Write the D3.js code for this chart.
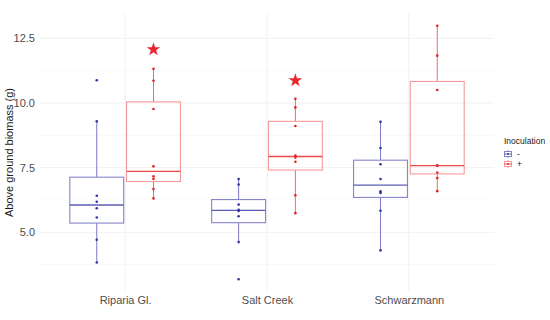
<!DOCTYPE html>
<html>
<head>
<meta charset="utf-8">
<script src="https://cdn.jsdelivr.net/npm/d3@7"></script>
<style>
  body { margin: 0; background: #fff; }
  text { font-family: "Liberation Sans", Arial, sans-serif; }
</style>
</head>
<body>
<div id="chart"></div>
<script>
// chart size
const width = 550, height = 320;
const margin = {top: 13, right: 56, bottom: 28, left: 40};

// data
let cultivars = ["Riparia Gl.", "Salt Creek", "Schwarzmann"];
let groups = ["-", "+"];
let biomass_minus = [
    [3.83, 4.71, 5.57, 5.93, 6.18, 6.41, 9.29, 10.88],
    [3.18, 4.62, 5.62, 5.82, 5.87, 6.07, 6.85, 7.06],
    [4.30, 5.83, 6.52, 6.58, 7.06, 7.63, 8.26, 9.27]
];
let biomass_plus = [
    [6.31, 6.67, 7.06, 7.16, 7.55, 9.77, 10.86, 11.32],
    [5.74, 6.43, 7.73, 7.89, 7.97, 9.11, 9.83, 10.16],
    [6.59, 7.10, 7.31, 7.58, 7.58, 10.50, 11.83, 12.99]
];
// significance stars (cultivar, height)
let star_cultivars = ["Riparia Gl.", "Salt Creek"];
let star_values = [12.07, 10.87];
let y_ticks = [5.0, 7.5, 10.0, 12.5];
let y_minor = [3.75, 6.25, 8.75, 11.25];

// colours per group
let box_col = {"-": "#8585cc", "+": "#f59a9a"};
let med_col = {"-": "#5c5cb8", "+": "#e84a4a"};
let whisk_col = {"-": "#7a7ac6", "+": "#ee6a6a"};
let pt_col = {"-": "#3434a8", "+": "#e02424"};

let svg = d3.select("#chart")
    .append("svg")
    .attr("width", width)
    .attr("height", height);

// y scale with 5% expansion like ggplot
let all_vals = biomass_minus.flat().concat(biomass_plus.flat());
let ext = d3.extent(all_vals);
let pad = (ext[1] - ext[0]) * 0.05;
let y = d3.scaleLinear()
    .domain([ext[0] - pad, ext[1] + pad])
    .range([height - margin.bottom, margin.top]);

let x = d3.scalePoint()
    .domain(cultivars)
    .range([margin.left, width - margin.right])
    .padding(0.6);
let step = x.step();
let dodge = d3.scaleOrdinal().domain(groups).range([-0.2 * step, 0.2 * step]);
let box_w = 0.38 * step;

// grid
let grid = svg.append("g");
grid.selectAll(".minor").data(y_minor).enter().append("line")
    .attr("x1", margin.left).attr("x2", width - margin.right)
    .attr("y1", d => y(d)).attr("y2", d => y(d))
    .attr("stroke", "#f6f6f6").attr("stroke-width", 0.8);
grid.selectAll(".major").data(y_ticks).enter().append("line")
    .attr("x1", margin.left).attr("x2", width - margin.right)
    .attr("y1", d => y(d)).attr("y2", d => y(d))
    .attr("stroke", "#f1f1f1").attr("stroke-width", 1);
grid.selectAll(".vert").data(cultivars).enter().append("line")
    .attr("x1", d => x(d)).attr("x2", d => x(d))
    .attr("y1", margin.top).attr("y2", height - margin.bottom)
    .attr("stroke", "#f1f1f1").attr("stroke-width", 1);

// y axis labels
svg.append("g")
    .attr("transform", `translate(${margin.left}, 0)`)
    .call(d3.axisLeft(y).tickValues(y_ticks).tickFormat(d3.format(".1f")).tickSize(0).tickPadding(5))
    .call(g => g.select(".domain").remove())
    .selectAll("text")
    .style("font-size", "11px")
    .attr("fill", "#4d4d4d");

// x axis labels
svg.append("g")
    .attr("transform", `translate(0, ${height - margin.bottom})`)
    .call(d3.axisBottom(x).tickSize(0).tickPadding(4))
    .call(g => g.select(".domain").remove())
    .selectAll("text")
    .style("font-size", "11px")
    .attr("fill", "#4d4d4d");

// axis title
svg.append("text")
    .attr("transform", `translate(13, ${(margin.top + height - margin.bottom) / 2}) rotate(-90)`)
    .style("text-anchor", "middle")
    .style("font-size", "11px")
    .attr("fill", "#1a1a1a")
    .text("Above ground biomass (g)");

// build boxplot stats
function boxStats(vals) {
    let s = vals.slice().sort(d3.ascending);
    let q1 = d3.quantile(s, 0.25), med = d3.quantile(s, 0.5), q3 = d3.quantile(s, 0.75);
    let iqr = q3 - q1;
    let lo = d3.min(s.filter(v => v >= q1 - 1.5 * iqr));
    let hi = d3.max(s.filter(v => v <= q3 + 1.5 * iqr));
    return {q1: q1, med: med, q3: q3, lo: lo, hi: hi};
}

let boxes = [];
for (let i = 0; i < cultivars.length; i++) {
    boxes.push({cultivar: cultivars[i], group: "-", vals: biomass_minus[i]});
    boxes.push({cultivar: cultivars[i], group: "+", vals: biomass_plus[i]});
}

let bg = svg.append("g");
boxes.forEach(function(b) {
    let st = boxStats(b.vals);
    let cx = x(b.cultivar) + dodge(b.group);
    // whiskers
    bg.append("line")
        .attr("x1", cx).attr("x2", cx).attr("y1", y(st.q3)).attr("y2", y(st.hi))
        .attr("stroke", whisk_col[b.group]).attr("stroke-width", 1);
    bg.append("line")
        .attr("x1", cx).attr("x2", cx).attr("y1", y(st.q1)).attr("y2", y(st.lo))
        .attr("stroke", whisk_col[b.group]).attr("stroke-width", 1);
    // box
    bg.append("rect")
        .attr("x", cx - box_w / 2).attr("width", box_w)
        .attr("y", y(st.q3)).attr("height", y(st.q1) - y(st.q3))
        .attr("fill", "none")
        .attr("stroke", box_col[b.group]).attr("stroke-width", 1.1);
    // median
    bg.append("line")
        .attr("x1", cx - box_w / 2).attr("x2", cx + box_w / 2)
        .attr("y1", y(st.med)).attr("y2", y(st.med))
        .attr("stroke", med_col[b.group]).attr("stroke-width", 1.3);
    // points
    bg.selectAll(null).data(b.vals).enter().append("circle")
        .attr("cx", cx).attr("cy", d => y(d)).attr("r", 1.3)
        .attr("fill", pt_col[b.group]);
});

// stars
svg.selectAll(".star").data(star_values).enter().append("path")
    .attr("d", d3.symbol().type(d3.symbolStar).size(58))
    .attr("transform", (d, i) => `translate(${x(star_cultivars[i]) + dodge("+")}, ${y(d)})`)
    .attr("fill", "#e8262e");

// legend
let lg = svg.append("g").attr("transform", "translate(504, 144)");
lg.append("text")
    .style("font-size", "8.5px")
    .attr("fill", "#1a1a1a")
    .text("Inoculation");
groups.forEach(function(g, i) {
    let ky = 7 + i * 10;
    lg.append("line").attr("x1", 4).attr("x2", 4).attr("y1", ky - 1).attr("y2", ky + 7)
        .attr("stroke", whisk_col[g]).attr("stroke-width", 0.8);
    lg.append("rect").attr("x", 0.5).attr("y", ky + 0.5).attr("width", 7).attr("height", 5)
        .attr("fill", "#fff").attr("stroke", box_col[g]).attr("stroke-width", 1);
    lg.append("line").attr("x1", 0.5).attr("x2", 7.5).attr("y1", ky + 3).attr("y2", ky + 3)
        .attr("stroke", med_col[g]).attr("stroke-width", 1);
    lg.append("circle").attr("cx", 4).attr("cy", ky + 3).attr("r", 0.9).attr("fill", pt_col[g]);
    lg.append("text")
        .attr("x", 13).attr("y", ky + 6)
        .style("font-size", "8.5px")
        .attr("fill", "#1a1a1a")
        .text(g);
});
</script>
</body>
</html>
